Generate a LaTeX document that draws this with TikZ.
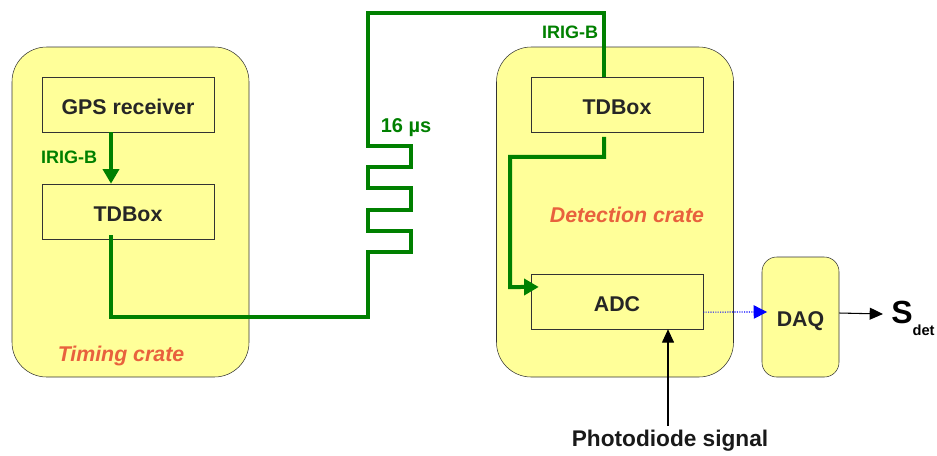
\documentclass[tikz,border=0pt]{standalone}
\usepackage{fontspec}
\setmainfont{Liberation Sans}
\usepackage{tikz}
\usetikzlibrary{arrows.meta, positioning}
\definecolor{myyellow}{rgb}{1.0, 1.0, 0.6}
\definecolor{mygreen}{rgb}{0.0, 0.5, 0.0}
\definecolor{myorange}{rgb}{0.91, 0.38, 0.24}
\definecolor{myblue}{rgb}{0.0, 0.0, 1.0}
\tikzstyle{crate} = [draw=black!80, fill=myyellow, rounded corners=26pt, minimum width=177.75pt, minimum height=247.5pt]
\tikzstyle{unit} = [draw=black!80, fill=myyellow, minimum width=129pt, minimum height=41.25pt, text height=14.5pt, text depth=0pt, font=\fontsize{16}{19}\selectfont\bfseries, text=black!85]
\tikzstyle{daqbox} = [draw=black!80, fill=myyellow, rounded corners=11pt, minimum width=57.75pt, minimum height=90pt, text height=14.5pt, text depth=0pt, font=\fontsize{16}{19}\selectfont\bfseries, text=black!85]
\tikzstyle{greenlabel} = [text=mygreen, font=\fontsize{13.5}{16}\selectfont\bfseries, inner sep=0pt]
\tikzstyle{cratelabel} = [text=myorange, font=\fontsize{16}{19}\selectfont\bfseries\itshape, inner sep=0pt]
\tikzstyle{cable} = [mygreen, line width=3pt]
\tikzstyle{cablearrow} = [cable, -{Triangle[length=11pt,width=12pt]}]
\tikzstyle{signal} = [black, line width=0.8pt, -{Triangle[length=10pt,width=9pt]}]
\tikzstyle{data} = [myblue, densely dotted, line width=0.8pt, -{Triangle[length=10pt,width=10pt]}]

\begin{document}
\begin{tikzpicture}[x=0.75pt, y=-0.75pt]
    \useasboundingbox (0,0) rectangle (937,455);
    % crates
    \node[crate] (timing) at (130.5,212) {};
    \node[crate] (detection) at (615,212) {};
    \node[daqbox] (daq) at (800.5,317) {DAQ};
    \node[cratelabel] (timinglbl) at (121,356) {Timing crate};
    \node[cratelabel] (detectionlbl) at (627,215) {Detection crate};
    % units
    \node[unit] (gps) at (128,104.5) {GPS receiver};
    \node[unit] (tdleft) at (128,211.5) {TDBox};
    \node[unit] (tdright) at (617,105) {TDBox};
    \node[unit] (adc) at (617,301.5) {ADC};
    % labels
    \node[greenlabel] (irigleft) at (69,157) {IRIG-B};
    \node[greenlabel] (irigright) at (570,32) {IRIG-B};
    \node[greenlabel, font=\fontsize{15}{18}\selectfont\bfseries] (delay) at (406,128) {16 µs};
    \node[font=\fontsize{17}{20}\selectfont\bfseries, text=black!90] (photo) at (670,441) {Photodiode signal};
    \node[anchor=west, inner sep=0pt] (sdet) at (891,318) {{\fontsize{24}{28}\selectfont\bfseries S}\raisebox{-9pt}{\fontsize{11}{13}\selectfont\bfseries det}};
    % timing cables
    \draw[cablearrow] ([xshift=-12.75pt]gps.south) -- ([xshift=-12.75pt]tdleft.north);
    \draw[cable] ([xshift=-12.75pt,yshift=3pt]tdleft.south) |- (368,317) -- (368,252)
        -- (411,252) -- (411,231) -- (368,231) -- (368,210)
        -- (411,210) -- (411,188) -- (368,188) -- (368,167)
        -- (411,167) -- (411,146) -- (368,146) -- (368,13)
        -| ([xshift=-9.75pt]tdright.north);
    \draw[cablearrow] ([xshift=-9.75pt,yshift=-3pt]tdright.south) -- ++(0,20) -| (510,287)
        -- ([xshift=6pt,yshift=10.9pt]adc.west);
    % signals
    \draw[signal] ([xshift=38.25pt]adc.south |- photo.north) -- ([xshift=38.25pt]adc.south);
    \draw[data] ([yshift=-7.9pt]adc.east) -- ([xshift=4pt,yshift=3.75pt]daq.west);
    \draw[signal] ([yshift=3pt]daq.east) -- ([xshift=-6pt,yshift=3pt]sdet.west);
\end{tikzpicture}
\end{document}
